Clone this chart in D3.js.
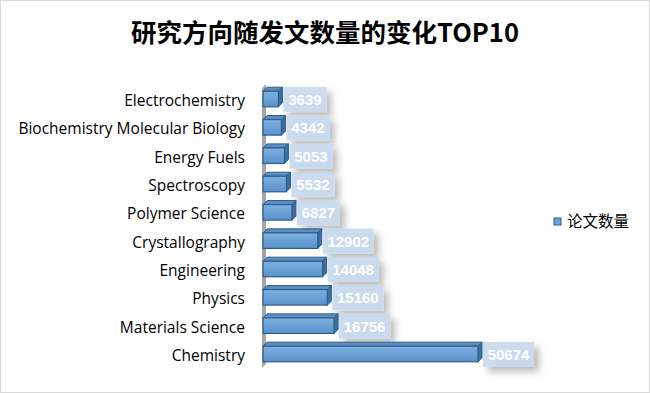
<!DOCTYPE html>
<html><head><meta charset="utf-8">
<script src="https://cdn.jsdelivr.net/npm/d3@7"></script>
<style>body{margin:0;background:#fff}svg{display:block}</style>
</head><body>
<svg id="c" width="650" height="393"></svg>
<script>
const categories = ["Electrochemistry","Biochemistry Molecular Biology","Energy Fuels","Spectroscopy","Polymer Science","Crystallography","Engineering","Physics","Materials Science","Chemistry"];
const values = [3639,4342,5053,5532,6827,12902,14048,15160,16756,50674];
const seriesName = "论文数量";
const title = "研究方向随发文数量的变化TOP10";

const svg = d3.select("#c");
const defs = svg.append("defs");
const g1 = defs.append("linearGradient").attr("id","front").attr("x1",0).attr("y1",0).attr("x2",0).attr("y2",1);
g1.append("stop").attr("offset","0").attr("stop-color","#7db0e0");
g1.append("stop").attr("offset","1").attr("stop-color","#5a92cb");
const f = defs.append("filter").attr("id","sh").attr("x","-30%").attr("y","-30%").attr("width","180%").attr("height","220%");
f.append("feDropShadow").attr("dx",5).attr("dy",5).attr("stdDeviation",3.5).attr("flood-color","#000").attr("flood-opacity",0.28);

svg.append("rect").attr("x",0.5).attr("y",0.5).attr("width",649).attr("height",392).attr("fill","#fff").attr("stroke","#d9d9d9");

svg.append("text").attr("x",325).attr("y",42).attr("text-anchor","middle")
  .attr("font-family","'Noto Sans CJK SC', sans-serif").attr("font-weight","bold").attr("font-size",25.5).attr("fill","#000").text(title);

const x = d3.scaleLinear().domain([0,50674]).range([263,478]);
const y = d3.scaleBand().domain(categories).range([85,368]).paddingInner(0.45).paddingOuter(0.22);
const dx = 4, dy = 4;

// wall
const y0 = 84, y1 = 368;
svg.append("path").attr("d",`M262,${y0+dy} L${262+dx},${y0} L${262+dx},${y1-dy} L262,${y1} Z`).attr("fill","#a6a6a6");

// y axis labels
const yAxis = d3.axisLeft(y).tickSize(0).tickPadding(0);
const ax = svg.append("g").attr("transform","translate(245,2)").call(yAxis);
ax.select(".domain").remove();
ax.selectAll("text").attr("font-family","'Open Sans', sans-serif").attr("font-size",15.5).attr("fill","#000");

const bars = svg.append("g").selectAll("g").data(categories).join("g");
bars.each(function(c,i){
  const gg = d3.select(this);
  const bx0 = x(0), bx1 = x(values[i]), by = y(c), bh = y.bandwidth();
  gg.append("path").attr("d",`M${bx0},${by} L${bx0+dx},${by-dy} L${bx1+dx},${by-dy} L${bx1},${by} Z`)
    .attr("fill","#5b8fc4").attr("stroke","#2f5d8a").attr("stroke-width",1);
  gg.append("path").attr("d",`M${bx1},${by} L${bx1+dx},${by-dy} L${bx1+dx},${by+bh-dy} L${bx1},${by+bh} Z`)
    .attr("fill","#3d6f9f").attr("stroke","#2f5d8a").attr("stroke-width",1);
  gg.append("rect").attr("x",bx0).attr("y",by).attr("width",bx1-bx0).attr("height",bh)
    .attr("fill","url(#front)").attr("stroke","#2f5d8a").attr("stroke-width",1.2);
  const lx = bx1 + dx + 1;
  const txt = String(values[i]);
  const w = txt.length*8 + 11;
  const cy = by + bh/2;
  gg.append("rect").attr("x",lx).attr("y",cy-12).attr("width",w).attr("height",25)
    .attr("fill","#c7daee").attr("fill-opacity",0.92).attr("filter","url(#sh)");
  gg.append("text").attr("x",lx+w/2).attr("y",cy+0.5).attr("dy","0.36em").attr("text-anchor","middle")
    .attr("font-family","'Liberation Sans', Arial, sans-serif").attr("font-weight","bold").attr("font-size",15).attr("fill","#fff").text(txt);
});

// legend
const lg = svg.append("g").attr("transform","translate(554,218)");
lg.append("rect").attr("x",0).attr("y",0).attr("width",7).attr("height",7).attr("fill","#6aa3dc").attr("stroke","#2f5d8a");
lg.append("text").attr("x",13).attr("y",3.5).attr("dy","0.36em").attr("font-family","'Noto Sans CJK SC', sans-serif").attr("font-size",15.5).attr("fill","#000").text(seriesName);
</script>
</body></html>
